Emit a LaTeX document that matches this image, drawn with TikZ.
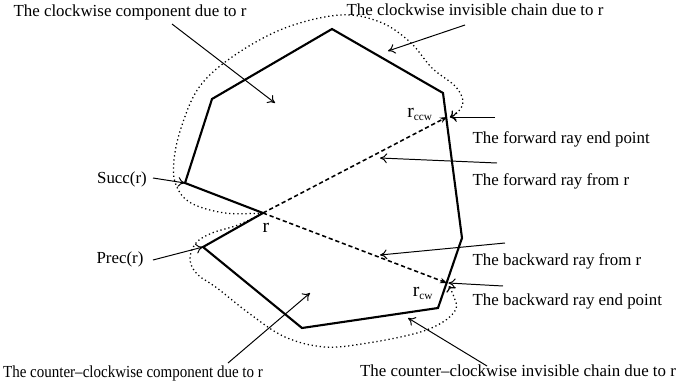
\documentclass[tikz,border=0pt]{standalone}
\usepackage{fontspec}
\setmainfont{Liberation Serif}
\usepackage{xcolor}
\usepackage{graphicx}
\usetikzlibrary{arrows.meta}

\tikzset{
  poly/.style={line width=1.5pt, line join=miter},
  ray/.style={line width=1.1pt, dashed, dash pattern=on 3pt off 2pt, -{Stealth[length=5pt,width=4pt]}},
  chain/.style={line width=0.9pt, dotted, ->},
  pointer/.style={line width=0.7pt, -{To[length=5pt,width=7pt]}},
  lbl/.style={inner sep=1pt, font=\fontsize{12}{14}\selectfont},
  vlbl/.style={inner sep=0pt, font=\fontsize{14}{15}\selectfont}
}

\begin{document}
\begin{tikzpicture}[x=0.025cm, y=-0.025cm]
\useasboundingbox (0,0) rectangle (680,389);

% polygon vertices
\coordinate (top) at (332,29);
\coordinate (ur) at (443,93);
\coordinate (lr) at (462,238);
\coordinate (br) at (438,308);
\coordinate (bot) at (302,328);
\coordinate (ll) at (203,247);
\coordinate (r) at (263,213);
\coordinate (succv) at (185,183);
\coordinate (ul) at (212,99);
\coordinate (rccw) at (447,117);
\coordinate (rcw) at (447,283);

\draw[poly] (top) -- (ur) -- (lr) -- (br) -- (bot) -- (ll) -- (r) -- (succv) -- (ul) -- cycle;

% rays from r
\draw[ray] (r) -- (rccw);
\draw[ray] (r) -- (rcw);

% invisible chains
\draw[chain] plot[smooth, tension=0.6] coordinates {(263,213) (225,213) (191,203) (176,185) (174,160) (182,125) (200,86) (235,55) (285,28) (340,15) (380,22) (410,42) (432,68) (455,86) (463,101) (458,112) (450,117)};
\draw[chain] plot[smooth, tension=0.6] coordinates {(263,213) (238,225) (212,233) (196,243) (190,259) (197,274) (217,288) (250,314) (285,337) (325,347) (368,343) (417,333) (443,322) (456,309) (454,297) (449,286)};

% labels
\node[lbl] (cwcomp) at (130,12) {The clockwise component due to r};
\node[lbl] (cwchain) at (475,10) {The clockwise invisible chain due to r};
\node[lbl, anchor=west] (fwdend) at (471,139) {The forward ray end point};
\node[lbl, anchor=west] (fwdray) at (471,181) {The forward ray from r};
\node[lbl, anchor=west] (bwdray) at (471,261) {The backward ray from r};
\node[lbl, anchor=west] (bwdend) at (471,301) {The backward ray end point};
\node[lbl] (succ) at (122,179) {Succ(r)};
\node[lbl] (prec) at (120,259) {Prec(r)};
\node[lbl] (ccwcomp) at (133,373) {\scalebox{0.89}[1]{The counter--clockwise component due to r}};
\node[lbl] (ccwchain) at (518,371) {The counter--clockwise invisible chain due to r};
\node[vlbl] (rlab) at (266,228) {r};
\node[vlbl] (rccwlab) at (420,114) {r\textsubscript{\fontsize{8}{9}\selectfont ccw}};
\node[vlbl] (rcwlab) at (423,293) {r\textsubscript{\fontsize{8}{9}\selectfont cw}};

% pointer ends
\coordinate (cwcompA) at (172,24);
\coordinate (cwcompB) at (275,103);
\coordinate (cwchainA) at (465,25);
\coordinate (cwchainB) at (388,51);
\coordinate (fwdendA) at (495,117);
\coordinate (fwdrayA) at (497,163);
\coordinate (fwdrayB) at (380,158);
\coordinate (succA) at (153,178);
\coordinate (precA) at (153,260);
\coordinate (bwdrayA) at (505,243);
\coordinate (bwdrayB) at (380,255);
\coordinate (bwdendA) at (503,286);
\coordinate (ccwcompA) at (228,363);
\coordinate (ccwcompB) at (310,293);
\coordinate (ccwchainA) at (487,366);
\coordinate (ccwchainB) at (408,318);

\draw[pointer] (cwcompA) -- (cwcompB);
\draw[pointer] (cwchainA) -- (cwchainB);
\draw[pointer] (fwdendA) -- ([xshift=2pt]rccw);
\draw[pointer] (fwdrayA) -- (fwdrayB);
\draw[pointer] (succA) -- (succv);
\draw[pointer] (precA) -- (ll);
\draw[pointer] (bwdrayA) -- (bwdrayB);
\draw[pointer] (bwdendA) -- ([xshift=1pt]rcw);
\draw[pointer] (ccwcompA) -- (ccwcompB);
\draw[pointer] (ccwchainA) -- (ccwchainB);
\end{tikzpicture}
\end{document}
